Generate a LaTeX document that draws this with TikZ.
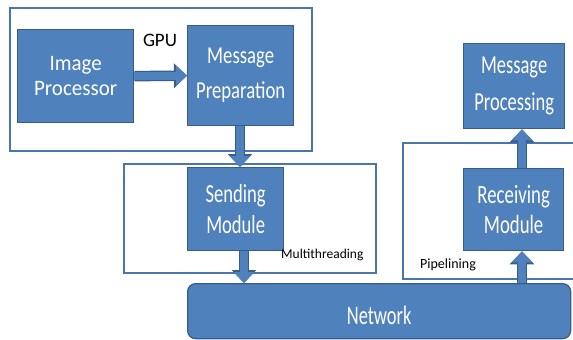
\documentclass[tikz,border=0pt]{standalone}
\usepackage{fontspec}
\setmainfont{Carlito}
\usetikzlibrary{arrows.meta,positioning}
\definecolor{boxfill}{HTML}{4F81BD}
\definecolor{boxline}{HTML}{385D8A}
\definecolor{frameline}{HTML}{4A76B0}
% vertically stretched line of block text
\newcommand{\tallsc}[2]{\scalebox{1}[#1]{#2}}
\tikzset{
  block/.style={draw=boxline, line width=1.3pt, fill=boxfill, text=white,
    inner sep=0pt, anchor=north west, align=center},
  frame/.style={draw=frameline, line width=1.7pt},
  flowedge/.style={draw=boxline, line width=10.5pt,
    -{Triangle[length=13pt,width=24pt]}},
  flowcore/.style={draw=boxfill, line width=8pt,
    -{Triangle[length=11pt,width=20pt]}},
  tag/.style={inner sep=0pt, text=black}
}
\newcommand{\flow}[2]{%
  \draw[flowedge] #1 -- #2;
  \draw[flowcore] #1 -- #2;}
\begin{document}
\begin{tikzpicture}[x=1pt,y=-1pt]
\useasboundingbox (0,0) rectangle (573,340);
% enclosing regions
\draw[frame] (10,8) rectangle (312,151);
\draw[frame] (124,164) rectangle (376,273);
\draw[frame] (403,143) rectangle (580,279);
% processing blocks
\node[block, minimum width=116pt, minimum height=93pt,
  font=\fontsize{21}{25}\selectfont] (ip) at (17,29)
  {\tallsc{1.05}{Image}\\\tallsc{1.05}{Processor}};
\node[block, minimum width=106pt, minimum height=100pt,
  font=\fontsize{18.7}{35}\selectfont] (mp) at (187,25)
  {\tallsc{1.3}{Message}\\\tallsc{1.3}{Preparation}};
\node[block, minimum width=96pt, minimum height=83pt,
  font=\fontsize{18.6}{31}\selectfont] (sm) at (187,167)
  {\tallsc{1.4}{Sending}\\\tallsc{1.4}{Module}};
\node[block, minimum width=101pt, minimum height=85pt,
  font=\fontsize{18.5}{37}\selectfont] (mq) at (463,43)
  {\tallsc{1.4}{Message}\\\tallsc{1.4}{Processing}};
\node[block, minimum width=100pt, minimum height=82pt,
  font=\fontsize{18.8}{30}\selectfont] (rm) at (463,168)
  {\tallsc{1.4}{Receiving}\\\tallsc{1.4}{Module}};
\node[block, minimum width=383pt, minimum height=55pt, rounded corners=8pt,
  font=\fontsize{18.4}{22}\selectfont] (net) at (187,283) {};
\node[text=white, inner sep=0pt, font=\fontsize{18.4}{22}\selectfont]
  (nettext) at ([yshift=-4pt]net.center) {\tallsc{1.45}{Network}};
% labels
\node[tag, font=\fontsize{19}{22}\selectfont] (gpu) at (160,40) {GPU};
\node[tag, font=\fontsize{13.5}{16}\selectfont, anchor=west] (mt) at (281,255) {Multithreading};
\node[tag, font=\fontsize{14}{16}\selectfont, anchor=west] (pl) at (420,265) {Pipelining};
% connectors
\coordinate (px) at (240,0);
\coordinate (sx) at (244,0);
\coordinate (rx) at (522,0);
\flow{(ip.east)}{(mp.west)}
\flow{(mp.south -| px)}{(sm.north -| px)}
\flow{(sm.south -| sx)}{(net.north -| sx)}
\flow{(net.north -| rx)}{(rm.south -| rx)}
\flow{(rm.north -| rx)}{(mq.south -| rx)}
\end{tikzpicture}
\end{document}
